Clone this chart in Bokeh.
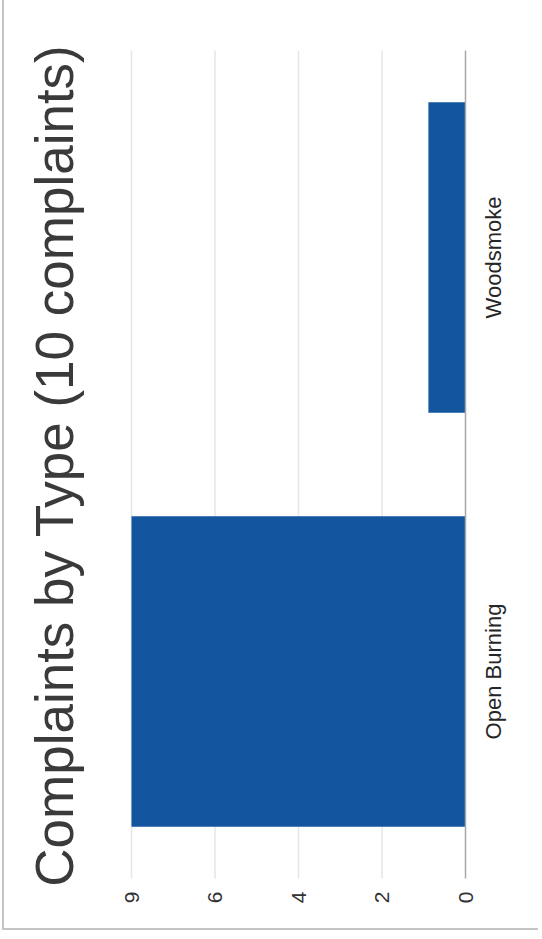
import math
from bokeh.plotting import figure
from bokeh.models import Range1d, ColumnDataSource, Grid
from bokeh.core.properties import value
from bokeh.embed import file_html
from bokeh.resources import INLINE

# ---- data ----
categories = ["Open Burning", "Woodsmoke"]
counts = [9, 1]
tick_values = [0, 2.25, 4.5, 6.75, 9]
tick_labels = ["0", "2", "4", "6", "9"]
title_text = "Complaints by Type (10 complaints)"

# ---- layout constants (canvas pixels) ----
W, H = 536, 930
VMAX_PX, ZERO_PX = 127, 461        # where the top value and zero sit horizontally
ROWS_TOP, ROWS_BOTTOM = 50, 878    # vertical extent of the category bands
TITLE_PX = 50                      # title centre (x)
CAT_LABEL_PX = 489                 # category label centre (x)
TICK_LABEL_PY = 897                # value tick labels centre (y)
TITLE_PY = 465

vmax = max(tick_values)
ncat = len(categories)
kx = (ZERO_PX - VMAX_PX) / vmax
ky = (ROWS_BOTTOM - ROWS_TOP) / ncat


def xd(px):
    return vmax - (px - VMAX_PX) / kx


def yd(py):
    return ncat - (py - ROWS_TOP) / ky


cat_pos = [i + 0.5 for i in range(ncat)]

p = figure(width=W, height=H, output_backend="svg", toolbar_location=None,
           x_range=Range1d(start=xd(0), end=xd(W)),
           y_range=Range1d(start=yd(H), end=yd(0)),
           x_axis_location=None, y_axis_location=None,
           min_border_left=0, min_border_right=0, min_border_top=0, min_border_bottom=0,
           styles={"margin-left": "2px", "border-left": "2px solid #c4c4c4",
                   "border-bottom": "2px solid #c4c4c4"})
p.title = None
p.outline_line_color = None
p.background_fill_color = "white"
p.border_fill_color = "white"
# remove the default grids; gridlines are drawn explicitly below
p.center = [c for c in p.center if not isinstance(c, Grid)]

# gridlines at the value ticks (not at zero, where the axis line is)
grid_vals = [v for v in tick_values if v != 0]
p.segment(x0=grid_vals, y0=[0] * len(grid_vals), x1=grid_vals, y1=[ncat] * len(grid_vals),
          line_color="#e6e6e6", line_width=1.5)

# bars
src = ColumnDataSource(dict(pos=cat_pos, val=counts, cat=categories))
p.hbar(y="pos", left=0, right="val", height=0.75, source=src,
       fill_color="#1455A0", line_color=None)

# category axis line (at zero)
p.segment(x0=[0], y0=[0], x1=[0], y1=[ncat], line_color="#a8a8a8", line_width=1.5)

# value tick labels
p.text(x=tick_values, y=[yd(TICK_LABEL_PY)] * len(tick_values), text=tick_labels,
       angle=math.pi / 2, text_align="center", text_baseline="middle",
       text_font=value("Liberation Sans"), text_font_size="21px", text_color="#333333")

# category labels
p.text(x=xd(CAT_LABEL_PX), y="pos", text="cat", source=src,
       angle=math.pi / 2, text_align="center", text_baseline="middle",
       text_font=value("Liberation Sans"), text_font_size="22px", text_color="#262626")

# title
p.text(x=[xd(TITLE_PX)], y=[yd(TITLE_PY)], text=[title_text],
       angle=math.pi / 2, text_align="center", text_baseline="middle",
       text_font=value("Liberation Sans"), text_font_size="53px", text_color="#3a3a3a")

open("out.html", "w").write(file_html(p, INLINE))
